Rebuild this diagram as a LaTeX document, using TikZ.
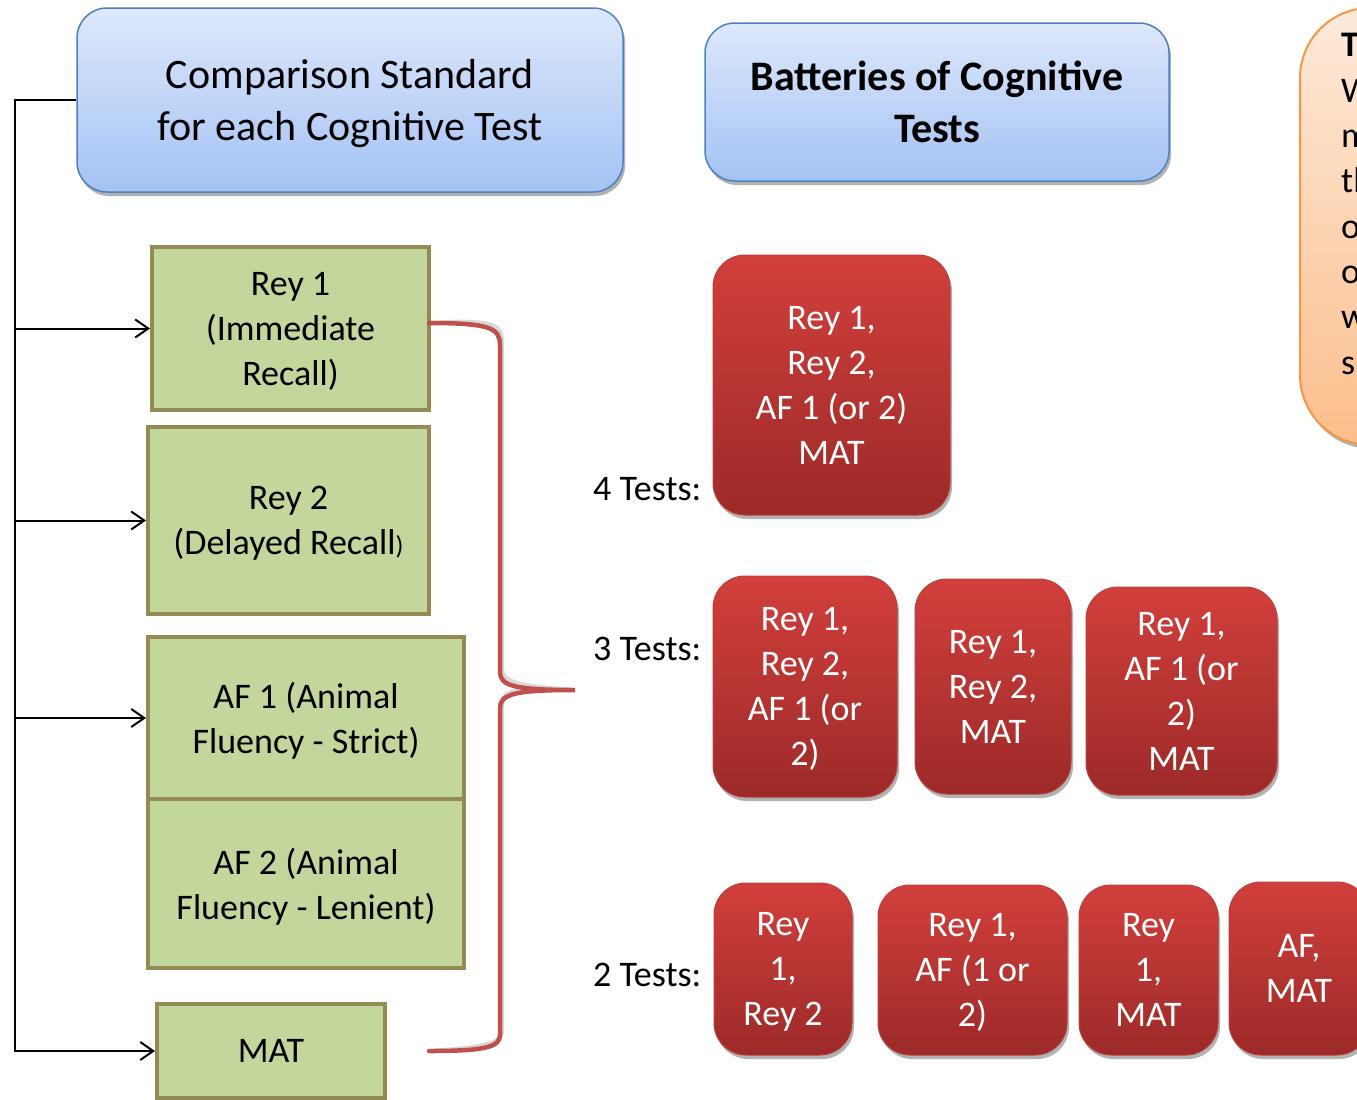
\documentclass[tikz,border=0pt]{standalone}
\usepackage{fontspec}
\setmainfont{Carlito}
\usetikzlibrary{arrows.meta,shadows}
\definecolor{gfill}{HTML}{C3D69B}
\definecolor{gdraw}{HTML}{948A54}
\definecolor{rtop}{HTML}{D23F3C}
\definecolor{rbot}{HTML}{9C2A28}
\definecolor{rdraw}{HTML}{B8403D}
\definecolor{btop}{HTML}{DDE8FB}
\definecolor{bbot}{HTML}{A4C2F4}
\definecolor{bdraw}{HTML}{4F81BD}
\definecolor{otop}{HTML}{FDEADA}
\definecolor{obot}{HTML}{FBBE8C}
\definecolor{odraw}{HTML}{F79646}
\definecolor{brace}{HTML}{C0504D}
\tikzset{
  shad/.style={drop shadow={shadow xshift=2pt,shadow yshift=-4pt,opacity=0.3,fill=black}},
  headbox/.style={rounded corners=30pt,top color=btop,bottom color=bbot,draw=bdraw,line width=1.5pt,shad,align=center,inner sep=0pt,text depth=0pt,font=\fontsize{42}{52}\selectfont},
  greenbox/.style={fill=gfill,draw=gdraw,line width=4pt,align=center,inner sep=0pt,text depth=0pt,font=\fontsize{36}{45}\selectfont},
  redbox/.style={rounded corners=32pt,top color=rtop,bottom color=rbot,draw=rdraw,line width=1pt,shad,align=center,inner sep=0pt,text depth=0pt,text=white,font=\fontsize{36}{45}\selectfont},
  lbl/.style={inner sep=0pt,font=\fontsize{36}{45}\selectfont},
  conn/.style={line width=2pt,black},
  tip/.style={-{Straight Barb[length=13pt,width=18pt,line width=2pt]}},
}
\begin{document}
\begin{tikzpicture}[x=1pt,y=-1pt]
\useasboundingbox[fill=white] (0,0) rectangle (1357,1100);
% orange partial box
\node[rounded corners=70pt,top color=otop,bottom color=obot,draw=odraw,line width=2pt,shad,minimum width=400pt,minimum height=437pt,inner sep=0pt] (note) at (1500,226.5) {};
\node[anchor=west,align=left,inner sep=0pt,font=\fontsize{36}{45.3}\selectfont] (notetxt) at (1341,204) {\textbf{T}\\W\\m\\th\\o\\o\\w\\s};
% headers
\node[headbox,minimum width=546pt,minimum height=184pt] (h1) at (350,100) {Comparison Standard\\for each Cognitive Test};
\node[headbox,minimum width=464pt,minimum height=158pt] (h2) at (937,102) {\bfseries Batteries of Cognitive\\\bfseries Tests};
% green boxes
\node[greenbox,minimum width=277pt,minimum height=163pt] (rey1) at (290.5,328.5) {Rey 1\\(Immediate\\Recall)};
\node[greenbox,minimum width=281pt,minimum height=187pt] (rey2) at (288.5,520.5) {Rey 2\\(Delayed Recall{\fontsize{26}{45}\selectfont)}};
\node[greenbox,minimum width=316pt,minimum height=162pt] (af1) at (306,718) {AF 1 (Animal\\Fluency - Strict)};
\node[greenbox,minimum width=316pt,minimum height=169pt] (af2) at (306,883.5) {AF 2 (Animal\\Fluency - Lenient)};
\node[greenbox,minimum width=228pt,minimum height=94pt] (mat) at (271,1051) {MAT};
% connectors
\coordinate (spine) at (15,100);
\draw[conn,tip] (h1.west) -- (spine) |- (mat.west);
\draw[conn,tip] (spine |- rey1.west) -- (rey1.west);
\draw[conn,tip] (spine |- rey2.west) -- (rey2.west);
\draw[conn,tip] (spine |- af1.west) -- (af1.west);
% brace
\coordinate (bt) at (429,323);
\coordinate (tipb) at (575,690);
\coordinate (bb) at (429,1051);
\draw[line width=4pt,black,opacity=0.15,shift={(2pt,4pt)}] (bt) .. controls (490,323) and (500,328) .. (500,345) -- (500,672) .. controls (500,686) and (515,690) .. (tipb) .. controls (515,690) and (500,694) .. (500,708) -- (500,1035) .. controls (500,1047) and (485,1051) .. (bb);
\draw[line width=4.5pt,brace,line cap=round] (bt) .. controls (490,323) and (500,328) .. (500,345) -- (500,672) .. controls (500,686) and (515,690) .. (tipb) .. controls (515,690) and (500,694) .. (500,708) -- (500,1035) .. controls (500,1047) and (485,1051) .. (bb);
% labels
\node[lbl,anchor=west] (l4) at (593,489) {4 Tests:};
\node[lbl,anchor=west] (l3) at (593,649) {3 Tests:};
\node[lbl,anchor=west] (l2) at (593,975) {2 Tests:};
% red boxes
\node[redbox,minimum width=237pt,minimum height=260pt] (b4) at (831.5,385) {Rey 1,\\Rey 2,\\AF 1 (or 2)\\MAT};
\node[redbox,minimum width=184pt,minimum height=221pt] (b3a) at (805,686.5) {Rey 1,\\Rey 2,\\AF 1 (or\\2)};
\node[redbox,minimum width=156pt,minimum height=215pt] (b3b) at (993,686.5) {Rey 1,\\Rey 2,\\MAT};
\node[redbox,minimum width=191pt,minimum height=208pt] (b3c) at (1181.5,691) {Rey 1,\\AF 1 (or\\2)\\MAT};
\node[redbox,minimum width=138pt,minimum height=172pt] (b2a) at (783,969) {Rey\\1,\\Rey 2};
\node[redbox,minimum width=189pt,minimum height=170pt] (b2b) at (972.5,970) {Rey 1,\\AF (1 or\\2)};
\node[redbox,minimum width=139pt,minimum height=170pt] (b2c) at (1148.5,970) {Rey\\1,\\MAT};
\node[redbox,minimum width=140pt,minimum height=173pt] (b2d) at (1299,968.5) {AF,\\MAT};
\end{tikzpicture}
\end{document}
